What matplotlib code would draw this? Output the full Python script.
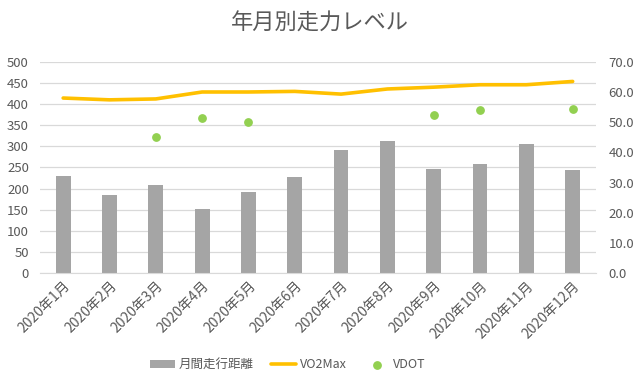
import numpy as np
import matplotlib
matplotlib.use("Agg")
import matplotlib.pyplot as plt

plt.rcParams['font.family'] = ['Noto Sans CJK JP', 'DejaVu Sans']

months = [f"2020年{m}月" for m in range(1, 13)]
distance = [229, 184, 209, 152, 191, 228, 291, 313, 247, 258, 305, 244]
vo2max = [58.0, 57.4, 57.7, 60.0, 60.0, 60.2, 59.3, 61.0, 61.6, 62.4, 62.4, 63.5]
vdot = [np.nan, np.nan, 45.0, 51.5, 50.0, np.nan, np.nan, np.nan, 52.3, 54.1, np.nan, 54.2]

text_col = "#595959"
x = np.arange(len(months))

fig = plt.figure(figsize=(6.4, 3.84), dpi=100)
ax = fig.add_axes([0.0625, 0.289, 0.8685, 0.55])
ax2 = ax.twinx()

bars = ax.bar(x, distance, width=0.32, color="#a5a5a5", label="月間走行距離", zorder=2)
line, = ax2.plot(x, vo2max, color="#ffc000", lw=2.6, solid_joinstyle="round",
                 solid_capstyle="round", label="VO2Max", zorder=3)
pts = ax2.scatter(x, vdot, s=28, color="#92d050", label="VDOT", zorder=4)

ax.set_ylim(0, 500)
ax.set_yticks(np.arange(0, 501, 50))
ax2.set_ylim(0, 70)
ax2.set_yticks(np.arange(0, 71, 10))
ax2.set_yticklabels([f"{v:.1f}" for v in np.arange(0, 71, 10)])
ax.set_xlim(-0.5, len(months) - 0.5)
ax.set_xticks(x)
ax.set_xticklabels(months, rotation=45, ha="right", rotation_mode="anchor")

ax.grid(axis="y", color="#d9d9d9", lw=0.9, zorder=0)
ax.set_axisbelow(True)
for a in (ax, ax2):
    for s in a.spines.values():
        s.set_visible(False)
    a.tick_params(length=0, labelsize=9.5, colors=text_col)
ax.spines["bottom"].set_visible(True)
ax.spines["bottom"].set_color("#d9d9d9")
ax.tick_params(axis="y", pad=8)
ax2.tick_params(axis="y", pad=9)
ax.tick_params(axis="x", pad=4, labelsize=10)

fig.suptitle("年月別走力レベル", y=0.97, fontsize=16, color=text_col)
fig.legend([bars, line, pts], ["月間走行距離", "VO2Max", "VDOT"],
           loc="center", bbox_to_anchor=(0.45, 0.05), ncol=3, frameon=False,
           fontsize=9, labelcolor=text_col, handlelength=2.0, handletextpad=0.3,
           columnspacing=1.4)

fig.savefig("out.png", dpi=100)
